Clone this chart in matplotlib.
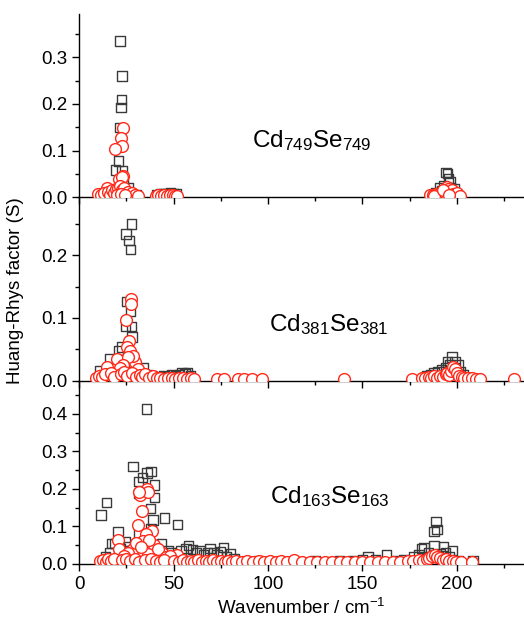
"""
Huang-Rhys factors vs wavenumber for three CdSe clusters.
"""

import matplotlib

matplotlib.use("Agg")
import matplotlib.pyplot as plt
from matplotlib.ticker import MultipleLocator, FormatStrFormatter

plt.rcParams.update(
    {
        "font.family": ["Liberation Sans", "DejaVu Sans"],
        "font.size": 13.5,
        "mathtext.fontset": "custom",
        "mathtext.rm": "Liberation Sans",
        "mathtext.it": "Liberation Sans:italic",
    }
)

# ---- Cd749Se749 ----
sq_x_749 = [21.7, 22.8, 22.4, 22.1, 21.3, 21.0, 19.2, 22.8, 25.9, 30.5, 18, 20, 23.5, 24.5, 27,
            16, 14, 12, 29, 41, 43, 45, 47, 48.5, 50, 51.5, 46, 44,
            194.2, 194.9, 196.3, 191, 193, 195.5, 197.5, 199, 189, 192, 196.5, 198.5]
sq_y_749 = [0.335, 0.26, 0.209, 0.192, 0.15, 0.078, 0.059, 0.058, 0.021, 0.006, 0.01, 0.015, 0.03, 0.012, 0.008,
            0.005, 0.004, 0.003, 0.004, 0.006, 0.007, 0.008, 0.009, 0.01, 0.009, 0.008, 0.006, 0.005,
            0.054, 0.051, 0.033, 0.02, 0.025, 0.04, 0.012, 0.008, 0.01, 0.015, 0.02, 0.018]
ci_x_749 = [23.1, 22.1, 22.8, 19.2, 23.1, 21.3, 14.6, 22.5, 10, 11.5, 13, 15.5, 16.5, 17.5, 18.5, 19.5,
            20.5, 21.5, 22.5, 23.5, 24, 25, 26, 27, 28, 29.5, 31, 20, 22, 24.5,
            40.5, 42, 43.5, 45, 46.5, 48, 49.5, 51, 52,
            186, 187.5, 189, 190, 191, 192, 193, 194, 194.9, 195.5, 196.5, 197.2, 198, 199, 200,
            201.5, 188, 192.5, 196]
ci_y_749 = [0.148, 0.128, 0.111, 0.103, 0.046, 0.039, 0.021, 0.043, 0.008, 0.006, 0.01, 0.012, 0.005, 0.015, 0.01, 0.018,
            0.02, 0.025, 0.017, 0.012, 0.02, 0.008, 0.012, 0.006, 0.01, 0.005, 0.004, 0.006, 0.007, 0.005,
            0.004, 0.005, 0.003, 0.005, 0.004, 0.006, 0.005, 0.004, 0.003,
            0.005, 0.006, 0.008, 0.005, 0.01, 0.007, 0.012, 0.015, 0.022, 0.018, 0.01, 0.015, 0.008, 0.006, 0.01,
            0.004, 0.004, 0.017, 0.006]

# ---- Cd381Se381 ----
sq_x_381 = [27.7, 24.9, 26.3, 27.3, 25.2, 27.3, 24.5, 27.7, 28, 22.8, 21, 16, 34, 10.7, 26, 29, 31, 19,
            13, 36, 38, 43, 45, 47, 49, 51, 53, 54.5, 56, 57.5, 59, 41,
            197.5, 199, 200.5, 196, 194, 192, 190, 188, 186, 184, 202, 203.5, 195, 198.5]
sq_y_381 = [0.25, 0.234, 0.223, 0.209, 0.126, 0.111, 0.087, 0.086, 0.07, 0.054, 0.048, 0.035, 0.02, 0.016, 0.04, 0.03, 0.015, 0.02,
            0.01, 0.01, 0.008, 0.006, 0.008, 0.007, 0.009, 0.008, 0.01, 0.012, 0.011, 0.013, 0.008, 0.005,
            0.038, 0.03, 0.025, 0.025, 0.02, 0.018, 0.015, 0.012, 0.01, 0.008, 0.015, 0.01, 0.03, 0.02]
ci_x_381 = [27.7, 27.3, 24.9, 26.3, 25.2, 27, 19.9, 29.8, 15, 28.5, 26, 23, 21.5, 31,
            9, 10.5, 12, 13.5, 17, 18.5, 22, 24, 25.5, 28, 30, 32, 33.5, 35, 37, 39, 41, 43, 45, 47,
            49, 51, 53, 55, 57, 59, 61, 73, 76.5, 84.3, 87.5, 91.4, 96.7, 140,
            176, 181.3, 183, 185, 186.5, 188, 189.5, 191, 192.5, 194, 195, 196, 197, 198, 199, 200,
            201, 202.5, 204, 206, 208, 210, 212, 230.5]
ci_y_381 = [0.131, 0.122, 0.096, 0.063, 0.054, 0.047, 0.034, 0.03, 0.022, 0.04, 0.038, 0.025, 0.02, 0.018,
            0.005, 0.008, 0.006, 0.01, 0.012, 0.006, 0.01, 0.014, 0.008, 0.012, 0.006, 0.009, 0.006, 0.01, 0.005, 0.007, 0.004, 0.005, 0.003, 0.005,
            0.004, 0.003, 0.005, 0.004, 0.003, 0.004, 0.003, 0.002, 0.002, 0.002, 0.002, 0.002, 0.002, 0.002,
            0.002, 0.004, 0.005, 0.006, 0.004, 0.007, 0.005, 0.008, 0.006, 0.01, 0.012, 0.009, 0.015, 0.022, 0.018, 0.012,
            0.008, 0.006, 0.005, 0.004, 0.004, 0.003, 0.003, 0.002]

# ---- Cd163Se163 ----
sq_x_163 = [35.6, 28.6, 38.1, 36, 33.5, 31.4, 39.8, 31.7, 39.8, 14.4, 11.6, 37.7, 45.1, 39.2, 52.2, 20.5,
            38.1, 31.4, 24.3, 43.7, 17.3, 57.8, 56.5, 69.3, 76.4, 80, 19, 22, 26, 28, 30, 34, 41, 47,
            49, 54, 60, 62, 64, 66, 68, 71, 73, 75, 78, 82, 16, 14,
            95, 100, 110, 125, 132, 138, 145, 150, 153, 157, 162.8, 168, 172, 176.9, 180,
            181.3, 182.5, 187.8, 188.9, 189.6, 187.8, 192.8, 197.7, 191, 185, 194, 196, 200.7, 208.6, 184, 190]
sq_y_163 = [0.413, 0.26, 0.247, 0.242, 0.231, 0.22, 0.21, 0.188, 0.177, 0.163, 0.13, 0.147, 0.123, 0.117, 0.105, 0.087,
            0.094, 0.082, 0.06, 0.053, 0.055, 0.05, 0.041, 0.042, 0.044, 0.028, 0.055, 0.04, 0.045, 0.035, 0.05, 0.06, 0.04, 0.035,
            0.03, 0.035, 0.038, 0.03, 0.035, 0.025, 0.03, 0.03, 0.025, 0.032, 0.02, 0.015, 0.03, 0.02,
            0.008, 0.006, 0.006, 0.008, 0.007, 0.009, 0.01, 0.012, 0.02, 0.012, 0.024, 0.01, 0.012, 0.02, 0.025,
            0.042, 0.044, 0.05, 0.113, 0.092, 0.087, 0.046, 0.036, 0.028, 0.03, 0.03, 0.02, 0.01, 0.01, 0.015, 0.02]
ci_x_163 = [36, 32.1, 36.7, 33.5, 31.4, 38.5, 35.6, 20.8, 39.5, 36.3, 28.6, 44.1, 51.9, 31.9, 21, 34,
            37, 30, 33, 26, 24, 42, 46, 48,
            11, 12.5, 14, 15.5, 17, 18.5, 22.5, 25, 27, 29.5, 31.5, 35, 38, 40.5, 43, 45, 50, 53, 55, 57,
            59, 61, 63, 65, 67, 69, 71, 73, 75, 77, 79, 81, 83, 86, 89, 92, 95, 98, 101, 104, 107, 110,
            114, 118, 122, 126, 130, 134, 138, 142, 146, 150, 154, 158, 162, 166, 170, 174, 177, 180,
            182, 184, 185.5, 187, 188.5, 189.5, 191, 192.5, 194, 196, 198, 199.8, 202, 208]
ci_y_163 = [0.199, 0.183, 0.192, 0.14, 0.103, 0.089, 0.08, 0.064, 0.05, 0.027, 0.041, 0.03, 0.025, 0.193, 0.04, 0.06,
            0.065, 0.055, 0.045, 0.03, 0.02, 0.04, 0.018, 0.022,
            0.008, 0.01, 0.006, 0.012, 0.008, 0.014, 0.01, 0.012, 0.008, 0.012, 0.006, 0.01, 0.012, 0.008, 0.006, 0.01, 0.008, 0.006, 0.01, 0.006,
            0.008, 0.006, 0.01, 0.006, 0.008, 0.006, 0.01, 0.006, 0.008, 0.006, 0.008, 0.006, 0.007, 0.006, 0.007, 0.006, 0.008, 0.006, 0.007, 0.006, 0.007, 0.006,
            0.01, 0.006, 0.005, 0.006, 0.005, 0.006, 0.005, 0.006, 0.005, 0.006, 0.005, 0.006, 0.005, 0.006, 0.005, 0.007, 0.009, 0.01,
            0.008, 0.012, 0.016, 0.02, 0.024, 0.018, 0.015, 0.01, 0.012, 0.008, 0.007, 0.006, 0.005, 0.006]

panels = [
    ("749", sq_x_749, sq_y_749, ci_x_749, ci_y_749, 0.392, [0.0, 0.1, 0.2, 0.3], (123, 0.122)),
    ("381", sq_x_381, sq_y_381, ci_x_381, ci_y_381, 0.292, [0.0, 0.1, 0.2], (132, 0.089)),
    ("163", sq_x_163, sq_y_163, ci_x_163, ci_y_163, 0.488, [0.0, 0.1, 0.2, 0.3, 0.4], (133, 0.179)),
]

fig = plt.figure(figsize=(5.24, 6.18), dpi=100)
gs = fig.add_gridspec(3, 1, left=0.151, right=0.998, bottom=0.0874, top=0.977, hspace=0)

for i, (n, sx, sy, cx, cy, ymax, yt, lab) in enumerate(panels):
    ax = fig.add_subplot(gs[i])
    ax.scatter(sx, sy, marker="s", s=46, facecolors="none", edgecolors="#3a3a3a", linewidths=1.0, zorder=2)
    ax.scatter(cx, cy, marker="o", s=72, facecolors="white", edgecolors="#ff2a1a", linewidths=1.0, zorder=3)
    ax.set_xlim(0, 235)
    ax.set_ylim(0, ymax)
    ax.set_yticks(yt)
    ax.yaxis.set_major_formatter(FormatStrFormatter("%.1f"))
    ax.yaxis.set_minor_locator(MultipleLocator(0.05))
    ax.xaxis.set_major_locator(MultipleLocator(50))
    ax.xaxis.set_minor_locator(MultipleLocator(25))
    ax.spines["top"].set_visible(False)
    ax.spines["right"].set_visible(False)
    for sp in ("left", "bottom"):
        ax.spines[sp].set_linewidth(1.0)
    ax.tick_params(which="major", direction="out", length=5, width=1, labelsize=13.5)
    ax.tick_params(which="minor", direction="out", length=3, width=1)
    ax.patch.set_alpha(0)
    if i < 2:
        ax.tick_params(axis="x", labelbottom=False)
    else:
        ax.set_xlabel("Wavenumber / cm$^{\\mathregular{-1}}$", fontsize=13.5)
    ax.text(lab[0], lab[1], f"Cd$_{{\\mathregular{{{n}}}}}$Se$_{{\\mathregular{{{n}}}}}$",
            fontsize=17.5, ha="center", va="center")

fig.text(0.03, 0.53, "Huang-Rhys factor (S)", rotation=90, ha="center", va="center", fontsize=13.5)

plt.savefig("out.png", dpi=100)
